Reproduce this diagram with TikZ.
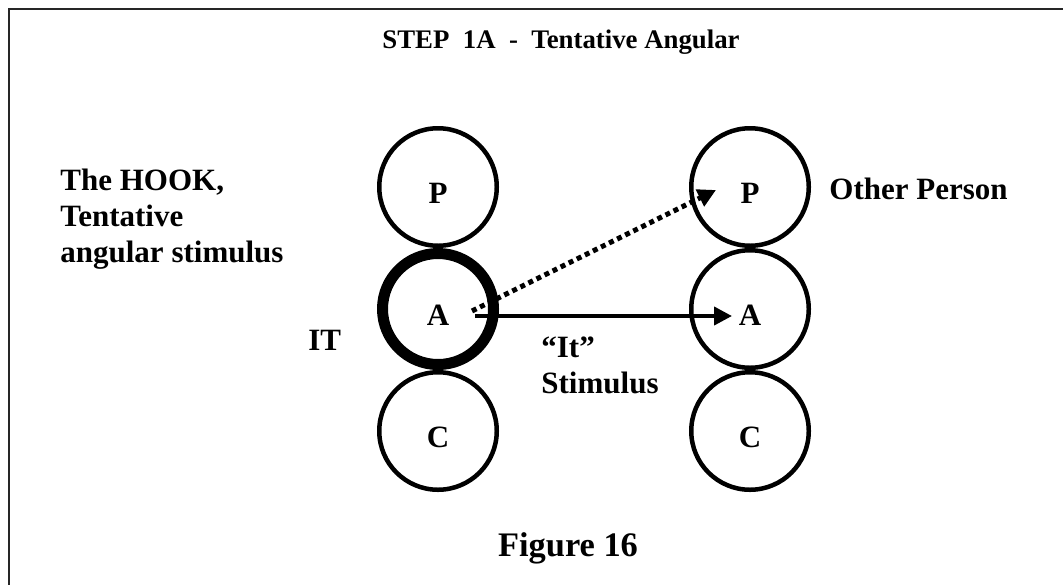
\documentclass[tikz,border=0pt]{standalone}
\usepackage{fontspec}
\setmainfont{Liberation Serif}
\usetikzlibrary{arrows.meta}

\tikzset{
    txt/.style={font=\bfseries\fontsize{15.5}{18}\selectfont, inner sep=0pt},
    ring/.style={circle, draw, txt, text height=16pt, text depth=0pt,
        line width=2.25pt, minimum size=58.75pt},
    ringbold/.style={ring, line width=5.5pt, minimum size=55.5pt},
    stim/.style={line width=2pt, -{Triangle[length=9pt,width=9pt]}},
    hook/.style={line width=2.5pt, dash pattern=on 2.5pt off 2pt,
        -{Triangle[length=9pt,width=9pt]}}
}

\begin{document}
\begin{tikzpicture}[x=0.5pt,y=-0.5pt]

% page size, in pixels of the scan
\useasboundingbox (0,0) rectangle (1063,584);

% Frame, only its top and left edges show.
\draw[line width=1.2pt, black!85]
    (9,600) coordinate (frameBL)
    -- (9,9) coordinate (frameTL)
    -- (1080,9) coordinate (frameTR);

% Title.
\node[txt, font=\bfseries\fontsize{13.4}{16}\selectfont] (title) at (561,42)
    {STEP\ \ 1A\ \ -\ \ Tentative Angular};

% Left column: the person who hooks.
% Loop for each ego state.
\foreach \n/\y/\s in {P/187/ring,A/309/ringbold,C/431/ring} {
    \node[\s] (L\n) at (438,\y) {\n};
}

% Right column: the other person.
\foreach \n/\y in {P/187,A/309,C/431} {
    \node[ring] (R\n) at (750,\y) {\n};
}

% Side labels.
\node[txt, anchor=north west, align=left] (hooktxt) at (60,169)
    {The HOOK,\\Tentative\\angular stimulus};
\node[txt, anchor=base west] (ittxt) at (308,350) {IT};
\node[txt, anchor=base west] (other) at (829,199) {Other Person};

% "It" stimulus, A to A.
\draw[stim]
    ([xshift=18.5pt,yshift=-3.5pt]LA.center)
    -- ([xshift=-9pt,yshift=-3.5pt]RA.center);
\node[txt, anchor=north west, align=left] (stimtxt) at (541,336)
    {``It''\\Stimulus};

% Hidden angular stimulus, A to P.
\draw[hook]
    ([xshift=17pt,yshift=-1pt]LA.center)
    -- ([xshift=-17pt,yshift=-1.5pt]RP.center);

% Caption.
\node[txt, font=\bfseries\fontsize{17.2}{20}\selectfont] (caption) at (568,548)
    {Figure 16};

\end{tikzpicture}
\end{document}
